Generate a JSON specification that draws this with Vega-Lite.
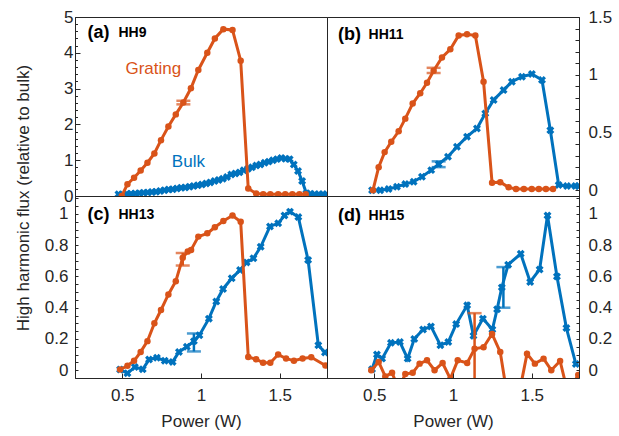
{
  "$schema": "https://vega.github.io/schema/vega-lite/v6.json",
  "padding": {"left": 13, "top": 7, "right": 0, "bottom": 5},
  "spacing": 0,
  "columns": 2,
  "bounds": "flush",
  "config": {
    "font": "Liberation Sans",
    "view": {"stroke": "#262626", "strokeWidth": 1},
    "axis": {"labelFontSize": 17, "titleFontSize": 17, "labelColor": "#262626", "titleColor": "#262626", "titleFontWeight": "normal", "domainColor": "#262626", "tickColor": "#262626", "ticks": true, "tickWidth": 1, "tickOpacity": 1, "grid": false, "labelFont": "Liberation Sans", "titleFont": "Liberation Sans"}
  },
  "datasets": {
    "aG": [{"P":0.497,"flux":0},{"P":0.533,"flux":0.33},{"P":0.575,"flux":0.51},{"P":0.617,"flux":0.71},{"P":0.66,"flux":0.93},{"P":0.704,"flux":1.19},{"P":0.746,"flux":1.56},{"P":0.793,"flux":1.94},{"P":0.84,"flux":2.28},{"P":0.888,"flux":2.61},{"P":0.936,"flux":3.01},{"P":0.983,"flux":3.52},{"P":1.04,"flux":4.0},{"P":1.088,"flux":4.4},{"P":1.142,"flux":4.66},{"P":1.2,"flux":4.64},{"P":1.252,"flux":3.78},{"P":1.3,"flux":0.21},{"P":1.35,"flux":0.07},{"P":1.395,"flux":0.05},{"P":1.44,"flux":0.05},{"P":1.49,"flux":0.05},{"P":1.535,"flux":0.05},{"P":1.58,"flux":0.05},{"P":1.625,"flux":0.05},{"P":1.665,"flux":0.05}],
    "aB": [{"P":0.476,"flux":0.05},{"P":0.503,"flux":0.04},{"P":0.529,"flux":0.06},{"P":0.556,"flux":0.06},{"P":0.582,"flux":0.07},{"P":0.609,"flux":0.08},{"P":0.635,"flux":0.09},{"P":0.662,"flux":0.1},{"P":0.688,"flux":0.11},{"P":0.715,"flux":0.12},{"P":0.741,"flux":0.14},{"P":0.768,"flux":0.16},{"P":0.794,"flux":0.18},{"P":0.821,"flux":0.19},{"P":0.847,"flux":0.21},{"P":0.874,"flux":0.23},{"P":0.9,"flux":0.24},{"P":0.927,"flux":0.26},{"P":0.953,"flux":0.28},{"P":0.98,"flux":0.3},{"P":1.006,"flux":0.32},{"P":1.033,"flux":0.35},{"P":1.059,"flux":0.38},{"P":1.086,"flux":0.42},{"P":1.112,"flux":0.45},{"P":1.139,"flux":0.48},{"P":1.165,"flux":0.53},{"P":1.192,"flux":0.6},{"P":1.218,"flux":0.63},{"P":1.245,"flux":0.66},{"P":1.271,"flux":0.72},{"P":1.298,"flux":0.76},{"P":1.324,"flux":0.8},{"P":1.351,"flux":0.85},{"P":1.377,"flux":0.88},{"P":1.404,"flux":0.93},{"P":1.43,"flux":0.96},{"P":1.457,"flux":1.0},{"P":1.483,"flux":1.03},{"P":1.51,"flux":1.06},{"P":1.536,"flux":1.04},{"P":1.563,"flux":1.03},{"P":1.589,"flux":0.88},{"P":1.616,"flux":0.7},{"P":1.642,"flux":0.42},{"P":1.669,"flux":0.08},{"P":1.695,"flux":0.06},{"P":1.722,"flux":0.05},{"P":1.748,"flux":0.05},{"P":1.775,"flux":0.05},{"P":1.798,"flux":0.05}],
    "bG": [{"P":0.492,"flux":0},{"P":0.528,"flux":0.2},{"P":0.566,"flux":0.33},{"P":0.608,"flux":0.42},{"P":0.655,"flux":0.51},{"P":0.697,"flux":0.62},{"P":0.744,"flux":0.75},{"P":0.792,"flux":0.84},{"P":0.835,"flux":0.93},{"P":0.877,"flux":1.035},{"P":0.93,"flux":1.15},{"P":0.983,"flux":1.22},{"P":1.036,"flux":1.34},{"P":1.089,"flux":1.35},{"P":1.142,"flux":1.34},{"P":1.194,"flux":0.94},{"P":1.248,"flux":0.065},{"P":1.3,"flux":0.07},{"P":1.353,"flux":0.025},{"P":1.4,"flux":0.01},{"P":1.45,"flux":0.01},{"P":1.5,"flux":0.01},{"P":1.545,"flux":0.01},{"P":1.59,"flux":0.01},{"P":1.635,"flux":0.01}],
    "bB": [{"P":0.486,"flux":0},{"P":0.538,"flux":0},{"P":0.591,"flux":0.01},{"P":0.644,"flux":0.03},{"P":0.697,"flux":0.053},{"P":0.75,"flux":0.074},{"P":0.803,"flux":0.117},{"P":0.862,"flux":0.174},{"P":0.909,"flux":0.226},{"P":0.968,"flux":0.29},{"P":1.025,"flux":0.377},{"P":1.089,"flux":0.464},{"P":1.152,"flux":0.535},{"P":1.205,"flux":0.665},{"P":1.258,"flux":0.781},{"P":1.321,"flux":0.867},{"P":1.374,"flux":0.94},{"P":1.438,"flux":0.983},{"P":1.501,"flux":1.006},{"P":1.565,"flux":0.954},{"P":1.618,"flux":0.52},{"P":1.671,"flux":0.045},{"P":1.724,"flux":0.036},{"P":1.777,"flux":0.036},{"P":1.798,"flux":0.036}],
    "cG": [{"P":0.486,"flux":0.004},{"P":0.533,"flux":0.028},{"P":0.575,"flux":0.06},{"P":0.617,"flux":0.117},{"P":0.66,"flux":0.186},{"P":0.704,"flux":0.3},{"P":0.746,"flux":0.385},{"P":0.793,"flux":0.485},{"P":0.84,"flux":0.57},{"P":0.884,"flux":0.72},{"P":0.916,"flux":0.76},{"P":0.937,"flux":0.77},{"P":0.983,"flux":0.855},{"P":1.04,"flux":0.876},{"P":1.088,"flux":0.915},{"P":1.142,"flux":0.955},{"P":1.2,"flux":0.99},{"P":1.252,"flux":0.95},{"P":1.3,"flux":0.085},{"P":1.35,"flux":0.07},{"P":1.394,"flux":0.047},{"P":1.44,"flux":0.047},{"P":1.49,"flux":0.1},{"P":1.54,"flux":0.075},{"P":1.59,"flux":0.06},{"P":1.645,"flux":0.075},{"P":1.7,"flux":0.083},{"P":1.79,"flux":0.03}],
    "cB": [{"P":0.486,"flux":0.004},{"P":0.533,"flux":-0.02},{"P":0.58,"flux":0.02},{"P":0.63,"flux":0.006},{"P":0.67,"flux":0.068},{"P":0.72,"flux":0.08},{"P":0.77,"flux":0.06},{"P":0.82,"flux":0.053},{"P":0.86,"flux":0.117},{"P":0.91,"flux":0.15},{"P":0.955,"flux":0.186},{"P":0.99,"flux":0.224},{"P":1.05,"flux":0.33},{"P":1.097,"flux":0.44},{"P":1.14,"flux":0.52},{"P":1.195,"flux":0.588},{"P":1.248,"flux":0.641},{"P":1.29,"flux":0.69},{"P":1.333,"flux":0.716},{"P":1.379,"flux":0.79},{"P":1.438,"flux":0.92},{"P":1.49,"flux":0.94},{"P":1.53,"flux":0.99},{"P":1.565,"flux":1.015},{"P":1.618,"flux":0.98},{"P":1.68,"flux":0.705},{"P":1.745,"flux":0.16},{"P":1.787,"flux":0.113}],
    "dG": [{"P":0.481,"flux":0},{"P":0.528,"flux":0.053},{"P":0.57,"flux":-0.04},{"P":0.613,"flux":-0.017},{"P":0.655,"flux":-0.12},{"P":0.697,"flux":-0.025},{"P":0.744,"flux":-0.017},{"P":0.788,"flux":0.042},{"P":0.835,"flux":0.063},{"P":0.883,"flux":0},{"P":0.934,"flux":0.046},{"P":0.983,"flux":-0.055},{"P":1.03,"flux":0.063},{"P":1.09,"flux":0.046},{"P":1.137,"flux":0.137},{"P":1.194,"flux":0.147},{"P":1.248,"flux":0.232},{"P":1.3,"flux":0.116},{"P":1.35,"flux":-0.2},{"P":1.41,"flux":-0.2},{"P":1.47,"flux":0.105},{"P":1.52,"flux":0.042},{"P":1.575,"flux":0.074},{"P":1.624,"flux":0},{"P":1.68,"flux":0.059},{"P":1.73,"flux":-0.15},{"P":1.795,"flux":-0.03}],
    "dB": [{"P":0.486,"flux":0.006},{"P":0.517,"flux":0.1},{"P":0.55,"flux":0.074},{"P":0.606,"flux":0.175},{"P":0.663,"flux":0.18},{"P":0.712,"flux":0.074},{"P":0.754,"flux":0.2},{"P":0.81,"flux":0.26},{"P":0.86,"flux":0.28},{"P":0.92,"flux":0.16},{"P":0.97,"flux":0.18},{"P":1.02,"flux":0.295},{"P":1.09,"flux":0.415},{"P":1.13,"flux":0.22},{"P":1.19,"flux":0.33},{"P":1.25,"flux":0.26},{"P":1.28,"flux":0.39},{"P":1.31,"flux":0.53},{"P":1.35,"flux":0.675},{"P":1.43,"flux":0.745},{"P":1.49,"flux":0.565},{"P":1.55,"flux":0.645},{"P":1.6,"flux":0.99},{"P":1.66,"flux":0.6},{"P":1.72,"flux":0.27},{"P":1.78,"flux":0.04}],
    "err": [{"panel":"a","s":"G","P":0.888,"lo":2.56,"hi":2.66},{"panel":"a","s":"B","P":0.95,"lo":0.26,"hi":0.3},{"panel":"b","s":"G","P":0.877,"lo":1.015,"hi":1.06},{"panel":"b","s":"B","P":0.909,"lo":0.2,"hi":0.25},{"panel":"c","s":"G","P":0.884,"lo":0.67,"hi":0.75},{"panel":"c","s":"B","P":0.955,"lo":0.12,"hi":0.235},{"panel":"d","s":"G","P":1.137,"lo":-0.1,"hi":0.365},{"panel":"d","s":"B","P":1.32,"lo":0.4,"hi":0.66}],
    "labs": [{"panel":"a","label":"(a)","P":0.279,"flux":4.54},{"panel":"b","label":"(b)","P":0.27,"flux":1.344},{"panel":"c","label":"(c)","P":0.279,"flux":0.994},{"panel":"d","label":"(d)","P":0.27,"flux":0.99}],
    "hh": [{"panel":"a","label":"HH9","P":0.476,"flux":4.54},{"panel":"b","label":"HH11","P":0.464,"flux":1.344},{"panel":"c","label":"HH13","P":0.476,"flux":0.994},{"panel":"d","label":"HH15","P":0.464,"flux":0.99}],
    "series": [{"s":"G","label":"Grating","P":0.697,"flux":3.54},{"s":"B","label":"Bulk","P":0.92,"flux":0.96}]
  },
  "concat": [
    {
      "width": 252, "height": 179,
      "encoding": {
        "x": {"field": "P", "type": "quantitative", "scale": {"domain": [0.2, 1.8], "nice": false, "zero": false}, "axis": null},
        "y": {"field": "flux", "type": "quantitative", "scale": {"domain": [0, 5], "nice": false, "zero": false},
          "axis": {"values": [0,0.2,0.4,0.6,0.8,1,1.2,1.4,1.6,1.8,2,2.2,2.4,2.6,2.8,3,3.2,3.4,3.6,3.8,4,4.2,4.4,4.6,4.8,5],
            "labelExpr": "abs(datum.value-round(datum.value))<0.001 ? format(datum.value,'~g') : ''",
            "ticks": true, "tickColor": "#262626", "tickWidth": 1, "tickOpacity": 1,
            "tickSize": {"condition": {"test": "abs(datum.value-round(datum.value))<0.001", "value": -5}, "value": -2.5},
            "labelPadding": 7, "zindex": 1,
            "title": "High harmonic flux (relative to bulk)", "titleX": -52, "titleY": 180.5, "titleAngle": -90, "titleAlign": "center", "titleBaseline": "middle"}}
      },
      "layer": [
        {"data": {"name": "aB"}, "mark": {"type": "line", "color": "#0072BD", "strokeWidth": 3, "clip": true}},
        {"data": {"name": "aB"}, "mark": {"type": "point", "shape": "cross", "angle": 45, "filled": true, "size": 65, "color": "#0072BD", "opacity": 1, "clip": true}},
        {"data": {"name": "aG"}, "mark": {"type": "line", "color": "#D95319", "strokeWidth": 3, "clip": true}},
        {"data": {"name": "aG"}, "mark": {"type": "point", "shape": "circle", "filled": true, "size": 42, "color": "#D95319", "opacity": 1, "clip": true}},
        {"data": {"name": "err"}, "transform": [{"filter": "datum.panel === 'a'"}], "mark": {"type": "errorbar", "ticks": {"size": 14, "thickness": 2.5}, "thickness": 2.5, "clip": true},
          "encoding": {"y": {"field": "lo", "type": "quantitative"}, "y2": {"field": "hi"}, "color": {"field": "s", "type": "nominal", "scale": {"domain": ["G", "B"], "range": ["#D95319", "#0072BD"]}, "legend": null}}},
        {"data": {"name": "labs"}, "transform": [{"filter": "datum.panel === 'a'"}], "mark": {"type": "text", "align": "left", "baseline": "middle", "fontSize": 18, "fontWeight": "bold", "color": "#000000"}, "encoding": {"text": {"field": "label", "type": "nominal"}}},
        {"data": {"name": "hh"}, "transform": [{"filter": "datum.panel === 'a'"}], "mark": {"type": "text", "align": "left", "baseline": "middle", "fontSize": 14, "fontWeight": "bold", "color": "#000000"}, "encoding": {"text": {"field": "label", "type": "nominal"}}},
        {"data": {"name": "series"}, "mark": {"type": "text", "align": "center", "baseline": "middle", "fontSize": 17}, "encoding": {"text": {"field": "label", "type": "nominal"}, "color": {"field": "s", "type": "nominal", "scale": {"domain": ["G", "B"], "range": ["#D95319", "#0072BD"]}, "legend": null}}}
      ]
    },
    {
      "width": 252, "height": 179,
      "encoding": {
        "x": {"field": "P", "type": "quantitative", "scale": {"domain": [0.2, 1.8], "nice": false, "zero": false}, "axis": null},
        "y": {"field": "flux", "type": "quantitative", "scale": {"domain": [-0.05, 1.5], "nice": false, "zero": false},
          "axis": {"orient": "right", "values": [0,0.1,0.2,0.3,0.4,0.5,0.6,0.7,0.8,0.9,1,1.1,1.2,1.3,1.4,1.5],
            "labelExpr": "abs(datum.value*2-round(datum.value*2))<0.001 ? format(datum.value,'~g') : ''",
            "ticks": true, "tickColor": "#262626", "tickWidth": 1, "tickOpacity": 1, "zindex": 1,
            "tickSize": -4,
            "labelPadding": 13, "title": null}}
      },
      "layer": [
        {"data": {"name": "bB"}, "mark": {"type": "line", "color": "#0072BD", "strokeWidth": 3, "clip": true}},
        {"data": {"name": "bB"}, "mark": {"type": "point", "shape": "cross", "angle": 45, "filled": true, "size": 65, "color": "#0072BD", "opacity": 1, "clip": true}},
        {"data": {"name": "bG"}, "mark": {"type": "line", "color": "#D95319", "strokeWidth": 3, "clip": true}},
        {"data": {"name": "bG"}, "mark": {"type": "point", "shape": "circle", "filled": true, "size": 42, "color": "#D95319", "opacity": 1, "clip": true}},
        {"data": {"name": "err"}, "transform": [{"filter": "datum.panel === 'b'"}], "mark": {"type": "errorbar", "ticks": {"size": 14, "thickness": 2.5}, "thickness": 2.5, "clip": true},
          "encoding": {"y": {"field": "lo", "type": "quantitative"}, "y2": {"field": "hi"}, "color": {"field": "s", "type": "nominal", "scale": {"domain": ["G", "B"], "range": ["#D95319", "#0072BD"]}, "legend": null}}},
        {"data": {"name": "labs"}, "transform": [{"filter": "datum.panel === 'b'"}], "mark": {"type": "text", "align": "left", "baseline": "middle", "fontSize": 18, "fontWeight": "bold", "color": "#000000"}, "encoding": {"text": {"field": "label", "type": "nominal"}}},
        {"data": {"name": "hh"}, "transform": [{"filter": "datum.panel === 'b'"}], "mark": {"type": "text", "align": "left", "baseline": "middle", "fontSize": 14, "fontWeight": "bold", "color": "#000000"}, "encoding": {"text": {"field": "label", "type": "nominal"}}}
      ]
    },
    {
      "width": 252, "height": 182,
      "encoding": {
        "x": {"field": "P", "type": "quantitative", "scale": {"domain": [0.2, 1.8], "nice": false, "zero": false},
          "axis": {"values": [0.5, 1, 1.5], "format": "~g", "ticks": true, "tickColor": "#262626", "tickWidth": 1, "tickOpacity": 1, "tickSize": -5, "zindex": 1, "labelPadding": 14, "title": "Power (W)", "titlePadding": 10}},
        "y": {"field": "flux", "type": "quantitative", "scale": {"domain": [-0.05, 1.115], "nice": false, "zero": false},
          "axis": {"values": [0,0.05,0.1,0.15,0.2,0.25,0.3,0.35,0.4,0.45,0.5,0.55,0.6,0.65,0.7,0.75,0.8,0.85,0.9,0.95,1,1.05,1.1],
            "labelExpr": "abs(datum.value*5-round(datum.value*5))<0.001 && datum.value<1.05 ? format(datum.value,'~g') : ''",
            "ticks": true, "tickColor": "#262626", "tickWidth": 1, "tickOpacity": 1, "zindex": 1,
            "tickSize": -3,
            "labelPadding": 10, "title": null}}
      },
      "layer": [
        {"data": {"name": "cB"}, "mark": {"type": "line", "color": "#0072BD", "strokeWidth": 3, "clip": true}},
        {"data": {"name": "cB"}, "mark": {"type": "point", "shape": "cross", "angle": 45, "filled": true, "size": 65, "color": "#0072BD", "opacity": 1, "clip": true}},
        {"data": {"name": "cG"}, "mark": {"type": "line", "color": "#D95319", "strokeWidth": 3, "clip": true}},
        {"data": {"name": "cG"}, "mark": {"type": "point", "shape": "circle", "filled": true, "size": 42, "color": "#D95319", "opacity": 1, "clip": true}},
        {"data": {"name": "err"}, "transform": [{"filter": "datum.panel === 'c'"}], "mark": {"type": "errorbar", "ticks": {"size": 14, "thickness": 2.5}, "thickness": 2.5, "clip": true},
          "encoding": {"y": {"field": "lo", "type": "quantitative"}, "y2": {"field": "hi"}, "color": {"field": "s", "type": "nominal", "scale": {"domain": ["G", "B"], "range": ["#D95319", "#0072BD"]}, "legend": null}}},
        {"data": {"name": "labs"}, "transform": [{"filter": "datum.panel === 'c'"}], "mark": {"type": "text", "align": "left", "baseline": "middle", "fontSize": 18, "fontWeight": "bold", "color": "#000000"}, "encoding": {"text": {"field": "label", "type": "nominal"}}},
        {"data": {"name": "hh"}, "transform": [{"filter": "datum.panel === 'c'"}], "mark": {"type": "text", "align": "left", "baseline": "middle", "fontSize": 14, "fontWeight": "bold", "color": "#000000"}, "encoding": {"text": {"field": "label", "type": "nominal"}}}
      ]
    },
    {
      "width": 252, "height": 182,
      "encoding": {
        "x": {"field": "P", "type": "quantitative", "scale": {"domain": [0.2, 1.8], "nice": false, "zero": false},
          "axis": {"values": [0.5, 1, 1.5], "format": "~g", "ticks": true, "tickColor": "#262626", "tickWidth": 1, "tickOpacity": 1, "tickSize": -5, "zindex": 1, "labelPadding": 14, "title": "Power (W)", "titlePadding": 10}},
        "y": {"field": "flux", "type": "quantitative", "scale": {"domain": [-0.05, 1.115], "nice": false, "zero": false},
          "axis": {"orient": "right", "values": [0,0.05,0.1,0.15,0.2,0.25,0.3,0.35,0.4,0.45,0.5,0.55,0.6,0.65,0.7,0.75,0.8,0.85,0.9,0.95,1,1.05,1.1],
            "labelExpr": "abs(datum.value*5-round(datum.value*5))<0.001 && datum.value<1.05 ? format(datum.value,'~g') : ''",
            "ticks": true, "tickColor": "#262626", "tickWidth": 1, "tickOpacity": 1, "zindex": 1,
            "tickSize": -3,
            "labelPadding": 12, "title": null}}
      },
      "layer": [
        {"data": {"name": "dB"}, "mark": {"type": "line", "color": "#0072BD", "strokeWidth": 3, "clip": true}},
        {"data": {"name": "dB"}, "mark": {"type": "point", "shape": "cross", "angle": 45, "filled": true, "size": 65, "color": "#0072BD", "opacity": 1, "clip": true}},
        {"data": {"name": "dG"}, "mark": {"type": "line", "color": "#D95319", "strokeWidth": 3, "clip": true}},
        {"data": {"name": "dG"}, "mark": {"type": "point", "shape": "circle", "filled": true, "size": 42, "color": "#D95319", "opacity": 1, "clip": true}},
        {"data": {"name": "err"}, "transform": [{"filter": "datum.panel === 'd'"}], "mark": {"type": "errorbar", "ticks": {"size": 14, "thickness": 2.5}, "thickness": 2.5, "clip": true},
          "encoding": {"y": {"field": "lo", "type": "quantitative"}, "y2": {"field": "hi"}, "color": {"field": "s", "type": "nominal", "scale": {"domain": ["G", "B"], "range": ["#D95319", "#0072BD"]}, "legend": null}}},
        {"data": {"name": "labs"}, "transform": [{"filter": "datum.panel === 'd'"}], "mark": {"type": "text", "align": "left", "baseline": "middle", "fontSize": 18, "fontWeight": "bold", "color": "#000000"}, "encoding": {"text": {"field": "label", "type": "nominal"}}},
        {"data": {"name": "hh"}, "transform": [{"filter": "datum.panel === 'd'"}], "mark": {"type": "text", "align": "left", "baseline": "middle", "fontSize": 14, "fontWeight": "bold", "color": "#000000"}, "encoding": {"text": {"field": "label", "type": "nominal"}}}
      ]
    }
  ]
}
